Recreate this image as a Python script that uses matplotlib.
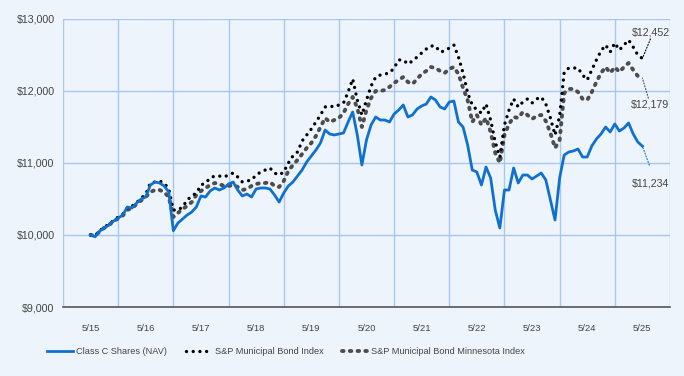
import numpy as np
import matplotlib
matplotlib.use('Agg')
import matplotlib.pyplot as plt

plt.rcParams['font.family'] = ['Liberation Sans', 'DejaVu Sans']

# monthly values, 5/15 .. 5/25
class_c = [10000, 9975, 10056, 10097, 10139, 10194, 10236, 10278, 10389, 10375,
           10444, 10500, 10528, 10694, 10736, 10722, 10681, 10597, 10060, 10167,
           10222, 10278, 10319, 10389, 10542, 10528, 10611, 10653, 10625, 10653,
           10708, 10736, 10625, 10542, 10569, 10528, 10639, 10653, 10653, 10639,
           10556, 10458, 10583, 10681, 10736, 10820, 10903, 11014, 11097, 11180,
           11278, 11458, 11403, 11389, 11403, 11417, 11569, 11708, 11389, 10972,
           11320, 11528, 11639, 11597, 11597, 11569, 11680, 11736, 11806, 11639,
           11667, 11750, 11792, 11819, 11917, 11875, 11778, 11750, 11847, 11861,
           11569, 11500, 11250, 10903, 10875, 10694, 10944, 10792, 10347, 10097,
           10625, 10625, 10931, 10722, 10833, 10833, 10778, 10819, 10861, 10764,
           10486, 10208, 10792, 11111, 11153, 11167, 11194, 11083, 11083, 11236,
           11333, 11403, 11500, 11431, 11542, 11444, 11486, 11556, 11403, 11292,
           11234]

muni_index = [10000, 9990, 10060, 10110, 10150, 10200, 10250, 10290, 10380, 10400,
              10450, 10510, 10569, 10722, 10736, 10750, 10722, 10639, 10347, 10347,
              10389, 10486, 10542, 10583, 10694, 10722, 10792, 10819, 10819, 10806,
              10833, 10861, 10806, 10736, 10750, 10764, 10833, 10875, 10903, 10931,
              10861, 10833, 10875, 11000, 11097, 11153, 11306, 11389, 11472, 11569,
              11667, 11778, 11792, 11778, 11806, 11833, 11986, 12167, 11875, 11667,
              11875, 12069, 12194, 12222, 12236, 12250, 12319, 12431, 12431, 12375,
              12417, 12472, 12528, 12583, 12625, 12625, 12542, 12556, 12597, 12639,
              12472, 12250, 11972, 11806, 11736, 11694, 11819, 11597, 11292, 11083,
              11528, 11736, 11889, 11778, 11847, 11889, 11833, 11889, 11917, 11819,
              11625, 11389, 11653, 12264, 12319, 12319, 12319, 12222, 12153, 12292,
              12431, 12556, 12639, 12542, 12667, 12569, 12639, 12708, 12611, 12500,
              12452]

mn_index = [10000, 9990, 10050, 10100, 10140, 10190, 10230, 10270, 10350, 10370,
            10430, 10480, 10528, 10597, 10625, 10625, 10597, 10528, 10250, 10306,
            10361, 10403, 10458, 10556, 10611, 10653, 10694, 10722, 10708, 10681,
            10681, 10694, 10667, 10625, 10639, 10681, 10708, 10722, 10722, 10736,
            10681, 10667, 10750, 10889, 10972, 11042, 11125, 11208, 11278, 11375,
            11500, 11625, 11569, 11597, 11625, 11694, 11819, 11917, 11764, 11500,
            11736, 11903, 12000, 12000, 12014, 12056, 12111, 12153, 12194, 12125,
            12097, 12167, 12236, 12278, 12333, 12319, 12278, 12250, 12306, 12333,
            12236, 12042, 11875, 11569, 11667, 11528, 11625, 11431, 11139, 11000,
            11389, 11542, 11639, 11625, 11708, 11667, 11611, 11653, 11667, 11583,
            11417, 11208, 11319, 11972, 12028, 12028, 11986, 11889, 11875, 11986,
            12125, 12250, 12333, 12250, 12333, 12264, 12333, 12389, 12292, 12208,
            12179]

tick_labels = ['5/15', '5/16', '5/17', '5/18', '5/19', '5/20',
               '5/21', '5/22', '5/23', '5/24', '5/25']
y_ticks = [9000, 10000, 11000, 12000, 13000]

bg = '#eef4fc'
grid_c = '#a9c7ee'
blue = '#1070cf'
gray = '#4d4d4d'
txt = '#444444'

months = np.arange(len(class_c))

fig = plt.figure(figsize=(6.84, 3.76), dpi=100, facecolor=bg)
ax = fig.add_axes([0.0921, 0.1835, 0.8874, 0.766])
ax.set_facecolor(bg)

# lines
ax.plot(months, mn_index, color=gray, lw=2.8, ls=(0, (0.4, 1.6)),
        dash_capstyle='round', zorder=3, label='S&P Municipal Bond Minnesota Index')
ax.plot(months, muni_index, color='black', lw=2.4, ls=(0, (0.01, 2.0)),
        dash_capstyle='round', zorder=4, label='S&P Municipal Bond Index')
ax.plot(months, class_c, color=blue, lw=2.0, zorder=5, label='Class C Shares (NAV)')

# axes
ax.set_xlim(-6, 126)
ax.set_ylim(9000, 13000)
ax.set_xticks(np.arange(0, 121, 12))
ax.set_xticklabels(tick_labels, fontsize=6.8)
ax.set_yticks(y_ticks)
ax.set_yticklabels([f'${v:,}' for v in y_ticks], fontsize=7.7)
ax.set_xticks(np.arange(-6, 127, 12), minor=True)
ax.tick_params(which='both', length=0, labelcolor=txt)
ax.tick_params(axis='x', pad=12)
ax.tick_params(axis='y', pad=6)
ax.grid(axis='y', which='major', color=grid_c, lw=1.0, zorder=0)
ax.grid(axis='x', which='minor', color=grid_c, lw=1.0, zorder=0)
for s in ['top', 'right', 'left']:
    ax.spines[s].set_visible(False)
ax.spines['bottom'].set_color('#555555')
ax.spines['bottom'].set_linewidth(1.2)

# end labels with leaders
ends = [(muni_index[-1], 'black', (5.8, 14), 19),
        (mn_index[-1], gray, (4.3, -14.4), -18.7),
        (class_c[-1], blue, (5, -13.7), -26.6)]
for val, col, lead, ty in ends:
    ax.annotate('', xy=(months[-1], val), xytext=lead, textcoords='offset points',
                arrowprops=dict(arrowstyle='-', ls=':', color=col, lw=0.8,
                                shrinkA=0, shrinkB=0), annotation_clip=False)
    ax.annotate(f'${val:,}', xy=(months[-1], val), xytext=(19.5, ty),
                textcoords='offset points', ha='right', va='center',
                fontsize=7.7, color=txt, annotation_clip=False)

# legend
h, l = ax.get_legend_handles_labels()
fig.legend(h[::-1], l[::-1], loc='center left', bbox_to_anchor=(47 / 684, 0.064),
           ncol=3, frameon=False, fontsize=6.6,
           handlelength=2.85, handletextpad=0.35, columnspacing=2.0,
           borderpad=0, borderaxespad=0, labelcolor=txt)

fig.savefig('out.png', dpi=100, facecolor=bg)
